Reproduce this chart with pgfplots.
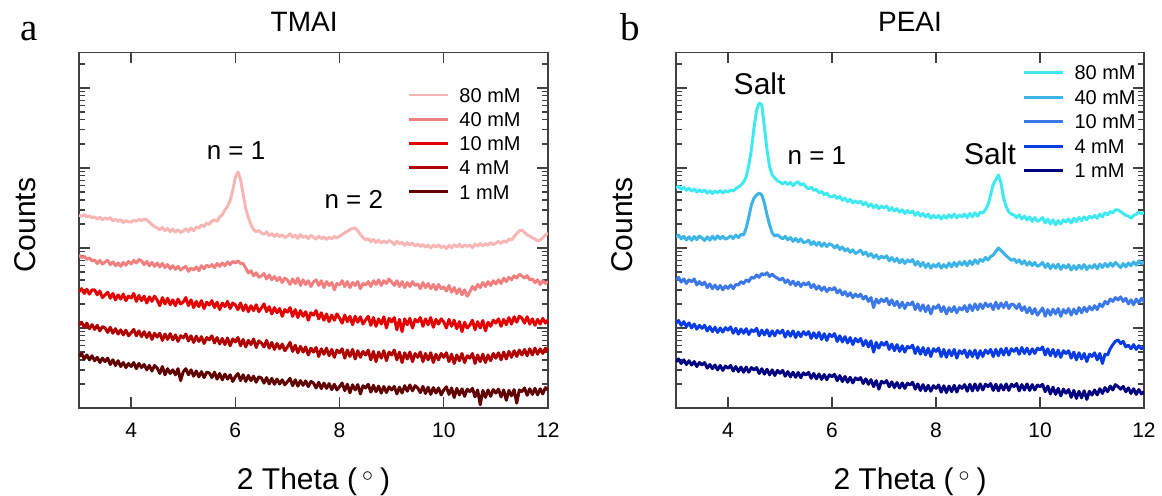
\documentclass[border=0pt]{standalone}
\usepackage{pgfplots}
\usepackage{pgfplotstable}
\pgfplotsset{compat=1.18}
\usepackage{fontspec}
\setmainfont{Liberation Sans}
\newfontfamily\serifletter{Liberation Serif}

\definecolor{a80}{RGB}{246,182,182}
\definecolor{a40}{RGB}{240,128,128}
\definecolor{a10}{RGB}{228,0,0}
\definecolor{a4}{RGB}{176,0,0}
\definecolor{a1}{RGB}{96,0,0}
\definecolor{b80}{RGB}{64,232,240}
\definecolor{b40}{RGB}{60,180,230}
\definecolor{b10}{RGB}{60,120,232}
\definecolor{b4}{RGB}{10,60,230}
\definecolor{b1}{RGB}{0,0,128}
\definecolor{axgray}{RGB}{64,64,64}

% TMAI panel: 2theta, counts for 80, 40, 10, 4, 1 mM
\pgfplotstableread{
x c80 c40 c10 c4 c1
3.00 2590 817 284 109 44
3.05 2480 760 310 118 48
3.10 2620 790 270 102 41
3.15 2430 720 305 115 46
3.20 2520 750 265 98 40
3.25 2380 690 300 110 45
3.30 2450 708 299 96 39
3.35 2300 640 260 108 43
3.40 2420 700 290 92 37
3.45 2250 630 240 104 42
3.50 2370 668 259 100 38
3.55 2280 700 280 88 42
3.60 2400 620 235 102 35
3.65 2180 670 270 86 40
3.70 2290 600 225 98 34
3.75 2150 650 260 84 39
3.80 2260 590 230 95 33
3.85 2080 660 265 82 37
3.90 2200 610 220 94 32
3.95 2120 680 250 80 36
4.00 2110 631 237 87 33
4.05 2230 700 270 96 37
4.10 2150 650 215 80 31
4.15 2280 720 255 92 36
4.20 2200 688 220 78 32
4.25 2300 620 250 90 35
4.30 2250 680 205 76 30
4.35 2100 600 245 88 34
4.40 1960 660 215 72 29
4.45 1850 590 250 86 34
4.50 1780 649 224 77 31.6
4.55 1690 580 190 86 27
4.60 1800 640 240 70 33
4.65 1640 570 200 84 26
4.70 1760 620 235 72 31
4.75 1600 550 195 85 27
4.80 1720 600 225 71 30
4.85 1580 540 190 82 26
4.90 1690 590 230 68 31
4.95 1560 530 200 80 22
5.00 1630 562 211 75 28.4
5.05 1740 590 240 84 31
5.10 1600 510 190 69 26
5.15 1780 560 225 80 30
5.20 1650 531 180 66 25
5.25 1820 580 215 79 29
5.30 1780 520 185 68 24.5
5.35 1940 600 220 78 28.5
5.40 1850 550 175 64 24
5.45 2050 610 210 76 28
5.50 1970 579 194 71 27.4
5.55 2180 620 220 80 24
5.60 2240 570 180 65 28
5.65 2150 640 210 76 23
5.70 2450 590 170 63 27
5.75 2600 650 205 74 22.5
5.80 2990 600 185 62 26.5
5.85 3300 670 215 75 23
5.90 3900 620 175 60 26
5.95 5200 680 205 73 21.5
6.00 7600 649 194 67 24.6
6.05 8900 690 170 76 27
6.10 7200 640 205 60 22
6.15 4700 640 165 72 26
6.20 3100 560 195 58 21.5
6.25 2400 487 160 70 25.5
6.30 1950 520 190 62 22
6.35 1700 450 165 73 25
6.40 1600 490 195 57 21
6.45 1650 430 160 69 24.5
6.50 1540 447 178 65 23.7
6.55 1480 480 200 58 20.5
6.60 1590 410 160 70 24
6.65 1430 460 185 56 20
6.70 1520 400 150 66 23.5
6.75 1390 440 180 54 19.8
6.80 1500 390 155 64 23
6.85 1380 430 175 55 20
6.90 1460 370 140 63 22.5
6.95 1350 420 170 52 19.5
7.00 1410 398 158 58 21.3
7.05 1500 350 180 66 23.5
7.10 1360 410 140 51 19
7.15 1450 360 170 61 22.5
7.20 1320 420 135 49 18.8
7.25 1470 340 165 59 22
7.30 1350 400 140 50 19.2
7.35 1420 350 160 58 21.8
7.40 1300 390 125 46 18.5
7.45 1440 330 155 56 21.5
7.50 1370 376 145 50 20.5
7.55 1290 400 165 57 17.8
7.60 1400 340 130 44 21
7.65 1310 390 155 55 17.5
7.70 1380 320 125 47 20.5
7.75 1280 380 150 56 17.6
7.80 1360 340 120 45 20.2
7.85 1300 370 145 54 17
7.90 1390 300 125 43 19.8
7.95 1340 360 150 53 16.8
8.00 1400 345 133 49 18.5
8.05 1470 390 115 55 20.5
8.10 1550 330 145 42 16.5
8.15 1620 380 120 53 19.8
8.20 1700 320 140 44 15.5
8.25 1760 370 110 54 19.5
8.30 1780 340 140 41 16.8
8.35 1640 380 118 52 19.6
8.40 1480 310 138 43 15
8.45 1350 360 112 51 19
8.50 1260 345 126 46 17.8
8.55 1310 380 140 53 19.8
8.60 1200 330 108 40 15.8
8.65 1280 390 135 51 19.2
8.70 1170 350 105 38 16
8.75 1250 400 130 50 18.8
8.80 1150 340 112 42 15.4
8.85 1230 390 138 52 18.6
8.90 1160 360 100 39 15.6
8.95 1240 410 132 50 18.4
9.00 1190 376 119 46 16.8
9.05 1100 340 135 53 18.6
9.10 1220 390 95 40 15
9.15 1130 330 128 50 18.2
9.20 1180 380 90 37 15.4
9.25 1080 320 130 49 19
9.30 1170 370 110 41 16.2
9.35 1090 330 132 50 19.4
9.40 1150 380 100 38 16.4
9.45 1060 340 128 48 19
9.50 1120 355 119 43 17.8
9.55 1040 310 135 50 15.6
9.60 1110 370 105 38 18.6
9.65 1020 320 130 48 15.2
9.70 1090 360 110 40 18.2
9.75 1000 310 135 49 14.8
9.80 1080 350 102 37 18
9.85 1030 300 128 47 15.4
9.90 1100 350 112 40 17.8
9.95 1010 310 130 48 14.6
10.00 1060 326 119 43 16.8
10.05 990 290 100 49 18.4
10.10 1080 340 128 38 14.8
10.15 1010 280 105 47 17.8
10.20 1100 320 125 36 13.5
10.25 1030 270 98 46 17.6
10.30 1110 310 120 39 14.6
10.35 1020 260 90 48 17.4
10.40 1090 300 118 37 14
10.45 1050 250 100 45 17.2
10.50 1090 282 109 42 16
10.55 1010 330 125 48 17.6
10.60 1120 300 95 36 13.8
10.65 1050 350 120 46 16.8
10.70 1140 320 100 38 11
10.75 1060 370 124 47 16.6
10.80 1130 330 92 37 13.6
10.85 1080 380 118 46 16.8
10.90 1170 340 105 39 14
10.95 1100 390 125 48 17
11.00 1150 355 115 42 15.4
11.05 1210 400 130 49 17.2
11.10 1140 360 105 40 13.8
11.15 1230 420 128 50 16.8
11.20 1180 380 110 41 12.5
11.25 1290 430 135 51 16.6
11.30 1260 400 112 43 14.2
11.35 1380 450 138 52 17
11.40 1520 420 118 44 11.5
11.45 1640 470 140 53 16.8
11.50 1680 447 133 46 16
11.55 1560 420 115 54 17.8
11.60 1450 450 138 45 14.4
11.65 1410 400 112 55 17.4
11.70 1340 410 130 46 14.8
11.75 1290 370 108 56 17.6
11.80 1230 400 128 47 14.6
11.85 1260 350 112 55 17.4
11.90 1340 390 132 48 15
11.95 1450 360 115 56 18
12.00 1540 380 126 50 16.8
}\tmai

% PEAI panel
\pgfplotstableread{
x c80 c40 c10 c4 c1
3.00 5620 1373 398 114 37.9
3.05 5900 1450 430 124 41
3.10 5400 1300 375 108 36
3.15 5750 1400 410 120 40
3.20 5250 1260 360 104 35
3.25 5600 1380 400 116 39
3.30 5150 1250 379 100 34.5
3.35 5450 1390 410 112 38
3.40 5000 1270 345 97 33
3.45 5350 1410 380 108 37
3.50 5010 1334 345 99 34.5
3.55 5300 1240 375 108 37
3.60 4850 1380 320 92 31.5
3.65 5200 1250 355 104 35
3.70 4800 1400 310 90 31
3.75 5150 1280 345 102 34.5
3.80 4900 1420 305 88 30
3.85 5250 1300 340 100 34
3.90 4850 1400 300 89 29.5
3.95 5200 1290 335 101 33.5
4.00 5010 1334 313 94 31.4
4.05 5300 1420 345 103 34
4.10 5150 1310 310 86 29
4.15 5500 1450 350 99 33
4.20 5790 1350 345 84 28.5
4.25 6100 1480 380 97 32.5
4.30 6680 1454 360 86 28
4.35 7720 1778 400 98 32.5
4.40 10900 2440 380 83 28
4.45 16800 3450 430 95 32
4.50 31600 4220 418 90 29.9
4.55 53100 4600 460 99 32
4.60 64900 4870 430 80 27
4.65 61300 4600 480 94 31
4.70 32500 3650 460 82 26.5
4.75 16800 2590 490 95 30.5
4.80 10300 1940 440 79 26
4.85 8180 1540 470 92 30
4.90 7500 1413 438 80 25.5
4.95 6900 1460 420 93 29.5
5.00 6680 1373 398 86 27.2
5.05 6300 1300 420 94 29.5
5.10 6700 1400 370 77 25
5.15 6200 1260 400 91 28.5
5.20 6600 1350 350 79 24.5
5.25 6000 1210 385 92 28
5.30 6500 1320 340 76 24.2
5.35 6700 1190 375 89 27.8
5.40 6100 1300 330 78 24
5.45 6400 1170 365 90 27.5
5.50 5790 1189 345 82 25.8
5.55 5500 1250 370 90 27.8
5.60 5750 1100 320 74 23.5
5.65 5250 1200 350 87 27
5.70 5400 1080 305 75 23.2
5.75 4900 1180 335 88 26.6
5.80 5100 1050 295 72 22.8
5.85 4600 1150 325 85 26.2
5.90 4850 1040 285 70 22.6
5.95 4400 1130 315 84 26
6.00 4340 1090 299 78 24.6
6.05 4550 1000 320 85 26.4
6.10 4150 1080 275 68 22
6.15 4400 960 300 80 25.4
6.20 3950 1030 260 67 21.4
6.25 4200 920 285 78 24.8
6.30 3800 980 250 65 21
6.35 4050 880 275 76 24.2
6.40 3650 950 240 62 20.6
6.45 3900 850 265 74 23.8
6.50 3650 891 246 67 22.4
6.55 3850 940 265 74 24
6.60 3450 830 230 60 20.2
6.65 3700 890 250 70 23.2
6.70 3300 790 215 58 19.8
6.75 3550 850 240 69 22.6
6.80 3200 760 180 50 18.5
6.85 3450 820 230 66 22
6.90 3100 730 205 56 17.2
6.95 3350 790 230 66 21.6
7.00 3160 750 213 61 20.4
7.05 3350 800 235 67 22
7.10 2950 690 195 54 18.4
7.15 3200 760 225 63 21.2
7.20 2900 680 190 52 18
7.25 3100 740 215 62 20.8
7.30 2800 650 180 51 17.8
7.35 3000 720 210 60 20.6
7.40 2700 640 175 50 17.6
7.45 2950 710 205 59 20.4
7.50 2740 668 194 56 19.4
7.55 2900 720 212 61 21
7.60 2550 610 170 48 17.2
7.65 2800 680 200 58 20
7.70 2500 590 165 47 16.6
7.75 2700 660 195 57 19.6
7.80 2450 570 160 46 16.4
7.85 2650 640 190 56 19.2
7.90 2350 560 150 44 16.2
7.95 2550 620 185 55 19
8.00 2370 579 176 51 17.6
8.05 2550 640 195 56 19.4
8.10 2300 560 160 44 15.8
8.15 2550 620 185 54 19
8.20 2350 570 150 43 15.6
8.25 2600 650 180 53 18.8
8.30 2400 580 160 45 16
8.35 2650 660 185 54 19.2
8.40 2380 590 155 42 15.8
8.45 2600 670 180 52 19
8.50 2440 613 168 48 17.6
8.55 2650 680 190 53 19.6
8.60 2400 600 160 43 16.2
8.65 2700 690 195 52 19.8
8.70 2450 620 165 44 16.4
8.75 2750 710 200 53 20
8.80 2500 640 170 42 16.6
8.85 2800 720 200 52 20
8.90 2740 680 175 44 16.8
8.95 3000 760 205 53 19.8
9.00 3450 708 185 48 18.5
9.05 4600 780 200 54 20.2
9.10 6200 817 170 44 16.6
9.15 7100 910 210 54 19.8
9.20 8180 1000 175 45 16.4
9.25 6500 930 205 55 19.6
9.30 4200 866 180 46 16.8
9.35 3300 800 210 56 20
9.40 2820 750 175 46 16.6
9.45 2650 700 200 55 19.8
9.50 2590 730 194 51 18.5
9.55 2400 660 175 56 20.2
9.60 2600 710 200 47 16.4
9.65 2300 630 165 57 19.6
9.70 2500 690 185 48 16.8
9.75 2250 610 155 56 20
9.80 2450 670 180 47 16.6
9.85 2150 600 150 55 19.6
9.90 2400 660 175 48 16.8
9.95 2150 590 145 56 19.4
10.00 2240 613 160 53 18.5
10.05 2400 660 178 58 19.8
10.10 2050 570 140 46 16
10.15 2300 640 170 55 18.8
10.20 2000 550 145 45 15
10.25 2250 620 172 54 18.2
10.30 1950 560 150 44 14.8
10.35 2200 630 175 53 17.6
10.40 2000 540 140 43 14.2
10.45 2250 610 170 52 17.2
10.50 2110 562 153 48 15.3
10.55 2300 620 175 52 17
10.60 2050 530 145 42 13.6
10.65 2350 600 172 50 16.6
10.70 2150 540 150 40 13.2
10.75 2400 610 180 49 16.2
10.80 2200 550 155 41 13.4
10.85 2450 620 182 48 16.4
10.90 2250 540 160 38 12.8
10.95 2500 600 185 47 16.2
11.00 2370 562 168 44 14.5
11.05 2550 620 190 49 16.8
11.10 2350 550 170 40 14.6
11.15 2650 630 200 48 17.4
11.20 2450 570 185 36 15.2
11.25 2750 640 215 47 18
11.30 2600 580 200 46 16
11.35 2850 650 230 55 18.8
11.40 2750 590 215 62 16.8
11.45 3000 660 240 68 19.6
11.50 2990 613 224 71 18.5
11.55 2850 570 245 64 17.2
11.60 2700 640 215 68 18.6
11.65 2550 580 235 58 16
11.70 2510 650 200 61 17.8
11.75 2350 600 225 55 15.2
11.80 2550 670 195 62 17.4
11.85 2650 610 230 54 14.8
11.90 2800 690 205 60 17
11.95 2700 630 235 55 15
12.00 2740 668 213 58 16
}\peai

\newcommand{\degcirc}{(\hspace{2.5pt}\raisebox{4pt}{$\scriptstyle\circ$}\hspace{3.5pt})}

\begin{document}
\begin{tikzpicture}
\path[use as bounding box] (0pt,0pt) rectangle (581pt,247.5pt);

\begin{axis}[at={(39.5pt,43.5pt)}, anchor=south west,
    scale only axis, width=234.5pt, height=177.85pt,
    xmin=3, xmax=12, ymode=log, ymin=10, ymax=2.79e5,
    xtick={4,6,8,10,12}, xticklabels={4,6,8,10,12},
    ytick={10,100,1000,10000,100000}, yticklabels={},
    minor ytick={20,30,40,50,60,70,80,90,200,300,400,500,600,700,800,900,2000,3000,4000,5000,6000,7000,8000,9000,20000,30000,40000,50000,60000,70000,80000,90000,200000},
    tick align=inside, tick pos=both, xticklabel pos=lower,
    major tick length=5.5pt, minor tick length=3pt,
    axis line style={axgray, line width=0.75pt},
    tick style={axgray, line width=0.7pt},
    xticklabel style={font=\fontsize{10.5}{12}\selectfont, yshift=-4pt},
    xlabel={2 Theta \degcirc},
    xlabel style={font=\fontsize{15}{18}\selectfont, at={(axis description cs:0.5,-0.2305)}, anchor=base},
    ylabel={Counts},
    ylabel style={font=\fontsize{15}{18}\selectfont, at={(axis description cs:-0.0938,0.514)}, anchor=base},
    title={TMAI},
    title style={font=\fontsize{14}{17}\selectfont, at={(axis description cs:0.48,1.0253)}, anchor=base},
    legend cell align=left,
    legend style={draw=none, fill=none, inner sep=0pt, outer sep=0pt,
      row sep=4.9pt, column sep=4.85pt, font=\fontsize{10}{12}\selectfont,
      nodes={inner sep=0pt, text height=7.2pt, text depth=0pt},
      at={(axis description cs:0.7015,0.9002)}, anchor=north west},
    legend image code/.code={\draw[#1, line width=1.4pt] (0pt,0pt) -- (19.5pt,0pt);},
    every axis plot/.append style={line width=1.5pt, line join=round}]
\addplot[a80] table[x=x,y=c80]{\tmai}; \addlegendentry{80 mM}
\addplot[a40] table[x=x,y=c40]{\tmai}; \addlegendentry{40 mM}
\addplot[a10] table[x=x,y=c10]{\tmai}; \addlegendentry{10 mM}
\addplot[a4] table[x=x,y=c4]{\tmai}; \addlegendentry{4 mM}
\addplot[a1] table[x=x,y=c1]{\tmai}; \addlegendentry{1 mM}
\node[font=\fontsize{13}{15}\selectfont] at (rel axis cs:0.335,0.7225) {n = 1};
\node[font=\fontsize{13}{15}\selectfont] at (rel axis cs:0.586,0.5876) {n = 2};
\end{axis}

\begin{axis}[at={(338pt,43.5pt)}, anchor=south west,
    scale only axis, width=234pt, height=177.85pt,
    xmin=3, xmax=12, ymode=log, ymin=10, ymax=2.79e5,
    xtick={4,6,8,10,12}, xticklabels={4,6,8,10,12},
    ytick={10,100,1000,10000,100000}, yticklabels={},
    minor ytick={20,30,40,50,60,70,80,90,200,300,400,500,600,700,800,900,2000,3000,4000,5000,6000,7000,8000,9000,20000,30000,40000,50000,60000,70000,80000,90000,200000},
    tick align=inside, tick pos=both, xticklabel pos=lower,
    major tick length=5.5pt, minor tick length=3pt,
    axis line style={axgray, line width=0.75pt},
    tick style={axgray, line width=0.7pt},
    xticklabel style={font=\fontsize{10.5}{12}\selectfont, yshift=-4pt},
    xlabel={2 Theta \degcirc},
    xlabel style={font=\fontsize{15}{18}\selectfont, at={(axis description cs:0.5,-0.2305)}, anchor=base},
    ylabel={Counts},
    ylabel style={font=\fontsize{15}{18}\selectfont, at={(axis description cs:-0.094,0.514)}, anchor=base},
    title={PEAI},
    title style={font=\fontsize{14}{17}\selectfont, at={(axis description cs:0.5,1.0253)}, anchor=base},
    legend cell align=left,
    legend style={draw=none, fill=none, inner sep=0pt, outer sep=0pt,
      row sep=5.05pt, column sep=4.85pt, font=\fontsize{10}{12}\selectfont,
      nodes={inner sep=0pt, text height=7.2pt, text depth=0pt},
      at={(axis description cs:0.7415,0.9629)}, anchor=north west},
    legend image code/.code={\draw[#1, line width=1.4pt] (0pt,0pt) -- (19.5pt,0pt);},
    every axis plot/.append style={line width=1.5pt, line join=round}]
\addplot[b80] table[x=x,y=c80]{\peai}; \addlegendentry{80 mM}
\addplot[b40] table[x=x,y=c40]{\peai}; \addlegendentry{40 mM}
\addplot[b10] table[x=x,y=c10]{\peai}; \addlegendentry{10 mM}
\addplot[b4] table[x=x,y=c4]{\peai}; \addlegendentry{4 mM}
\addplot[b1] table[x=x,y=c1]{\peai}; \addlegendentry{1 mM}
\node[font=\fontsize{15}{18}\selectfont] at (rel axis cs:0.1786,0.9115) {Salt};
\node[font=\fontsize{13}{15}\selectfont] at (rel axis cs:0.301,0.709) {n = 1};
\node[font=\fontsize{15}{18}\selectfont] at (rel axis cs:0.671,0.716) {Salt};
\end{axis}

\node[anchor=base west, font=\serifletter\fontsize{19.5}{22}\selectfont] at (6.5pt,227.5pt) {a};
\node[anchor=base west, font=\serifletter\fontsize{19.5}{22}\selectfont] at (306.5pt,227.5pt) {b};
\end{tikzpicture}
\end{document}
